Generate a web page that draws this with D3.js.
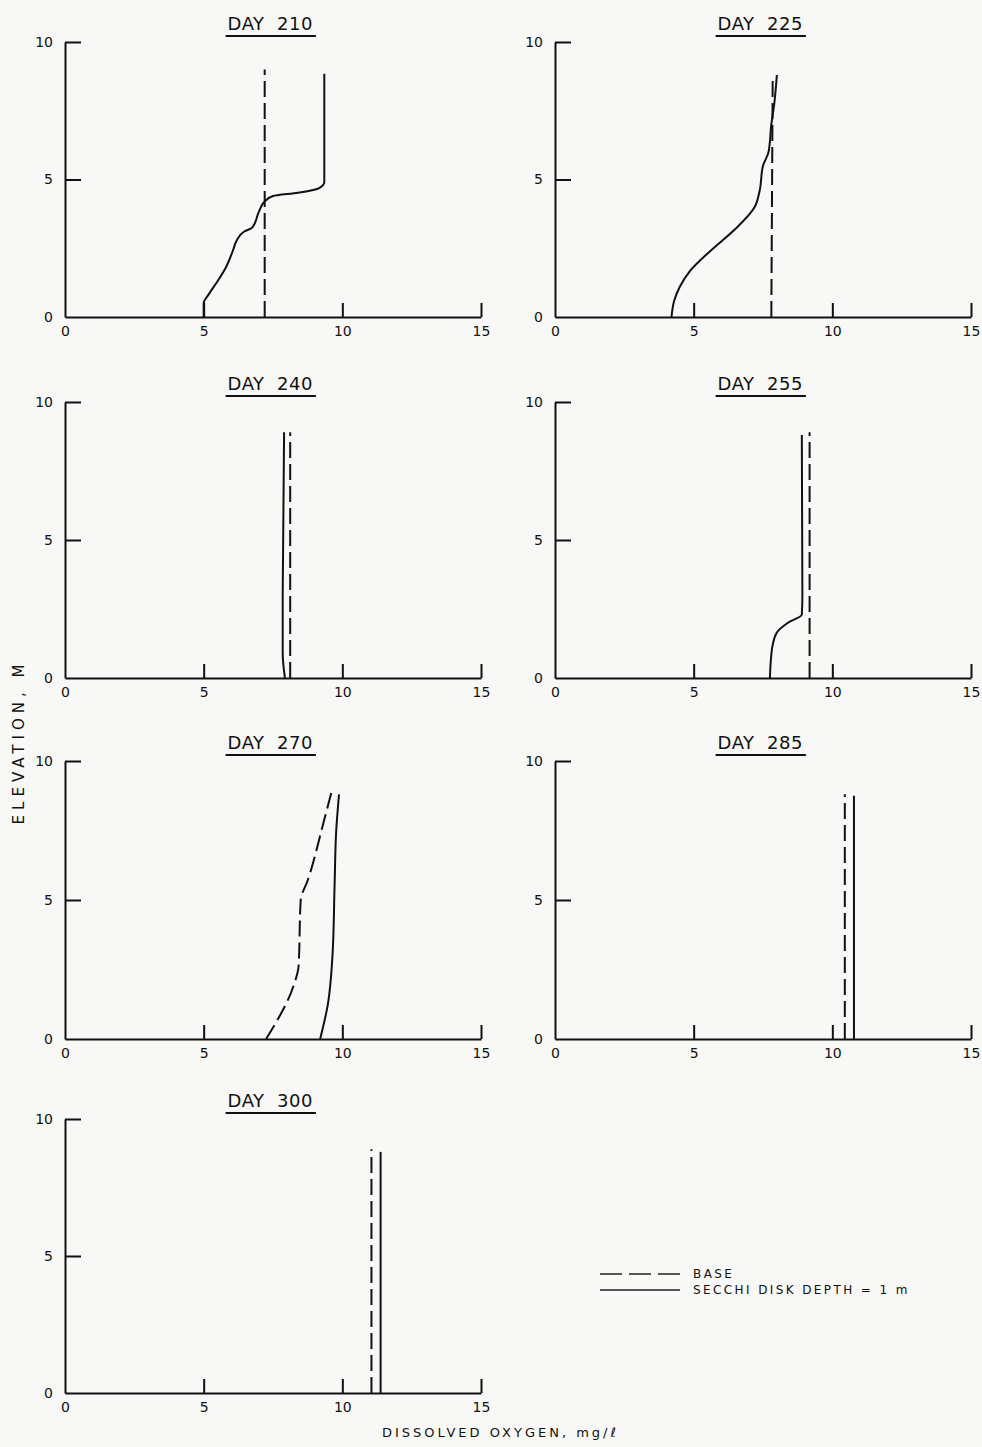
<!DOCTYPE html>
<html>
<head>
<meta charset="utf-8">
<script src="https://cdn.jsdelivr.net/npm/d3@7"></script>
<style>
  body { margin: 0; background: #f8f8f6; }
  svg { display: block; }
  text { font-family: "DejaVu Sans", sans-serif; fill: #111; }
</style>
</head>
<body>
<div id="chart"></div>
<script>

// days shown, one panel each
const days = [210, 225, 240, 255, 270, 285, 300]

// profiles as [dissolved oxygen mg/l, elevation m]
const base210 = [[7.2, 0], [7.2, 9.0]]
const secchi210 = [[5.0, 0], [5.0, 0.5], [5.2, 0.85], [5.5, 1.3], [5.8, 1.8], [6.05, 2.4], [6.2, 2.8], [6.45, 3.1], [6.75, 3.25], [7.0, 3.85], [7.2, 4.2], [7.5, 4.4], [8.4, 4.52], [9.15, 4.68], [9.35, 4.9], [9.35, 8.85]]

const base225 = [[7.8, 0], [7.85, 8.8]]
const secchi225 = [[4.2, 0], [4.3, 0.6], [4.5, 1.1], [4.85, 1.65], [5.6, 2.4], [6.5, 3.2], [7.2, 4.0], [7.38, 4.6], [7.5, 5.5], [7.7, 6.0], [7.8, 7.0], [7.9, 7.7], [8.0, 8.8]]

const base240 = [[8.12, 0], [8.12, 8.9]]
const secchi240 = [[7.93, 0], [7.85, 0.9], [7.85, 3.0], [7.9, 8.9]]

const base255 = [[9.18, 0], [9.18, 8.9]]
const secchi255 = [[7.75, 0], [7.78, 0.6], [7.85, 1.2], [8.0, 1.65], [8.4, 2.0], [8.9, 2.3], [8.92, 3.0], [8.9, 8.8]]

const base270 = [[7.25, 0], [8.27, 2.0], [8.42, 2.6], [8.5, 5.0], [8.75, 5.7], [9.35, 7.9], [9.6, 8.85]]
const secchi270 = [[9.2, 0], [9.47, 1.2], [9.65, 3.1], [9.72, 5.5], [9.78, 7.5], [9.88, 8.8]]

const base285 = [[10.45, 0], [10.45, 8.8]]
const secchi285 = [[10.78, 0], [10.78, 8.75]]

const base300 = [[11.05, 0], [11.05, 8.9]]
const secchi300 = [[11.38, 0], [11.38, 8.8]]

const baseRuns = [base210, base225, base240, base255, base270, base285, base300]
const secchiRuns = [secchi210, secchi225, secchi240, secchi255, secchi270, secchi285, secchi300]

const xTicks = [0, 5, 10, 15]
const yTicks = [0, 5, 10]
const legendLabels = ["BASE", "SECCHI DISK DEPTH = 1 m"]

const width = 982
const height = 1447

// panel placement
const colLeft = [65, 555]
const rowTop = [42, 402, 761, 1119]
const rowBottom = [317, 678, 1039, 1393]
const plotWidth = 416

var svg = d3.select("#chart").append("svg")
    .attr("width", width)
    .attr("height", height)

var line = d3.line()
    .x(d => d[0])
    .y(d => d[1])
    .curve(d3.curveMonotoneY)

days.forEach(function(day, i) {

    var col = i % 2
    var row = Math.floor(i / 2)

    var x = d3.scaleLinear().domain([0, 15]).range([colLeft[col], colLeft[col] + plotWidth])
    var y = d3.scaleLinear().domain([0, 10]).range([rowBottom[row], rowTop[row]])

    var g = svg.append("g")

    // x axis, ticks pointing up
    var xAxis = g.append("g")
        .attr("transform", `translate(0,${y(0)})`)
        .call(d3.axisBottom(x).tickValues(xTicks).tickSizeInner(-14).tickSizeOuter(0).tickPadding(9))

    xAxis.selectAll(".tick line").filter(d => d === 0).remove()

    // y axis, ticks pointing right
    var yAxis = g.append("g")
        .attr("transform", `translate(${x(0)},0)`)
        .call(d3.axisLeft(y).tickValues(yTicks).tickSizeInner(-16).tickSizeOuter(0).tickPadding(12))

    yAxis.selectAll(".tick line").filter(d => d === 0).remove()

    g.selectAll(".domain, .tick line")
        .attr("stroke", "#111")
        .attr("stroke-width", 2)

    g.selectAll(".tick text")
        .style("font-size", "14px")
        .style("font-family", "DejaVu Sans, sans-serif")
        .attr("fill", "#222")

    // title with underline
    var title = g.append("text")
        .attr("x", x(7.4))
        .attr("y", y(10) - 12)
        .attr("text-anchor", "middle")
        .style("font-size", "18px")
        .style("letter-spacing", "0.5px")
        .text("DAY  " + day)
        .attr("xml:space", "preserve")

    var box = title.node().getBBox()

    g.append("line")
        .attr("x1", box.x - 2)
        .attr("x2", box.x + box.width + 3)
        .attr("y1", y(10) - 6)
        .attr("y2", y(10) - 6)
        .attr("stroke", "#111")
        .attr("stroke-width", 2)

    // profiles
    g.append("path")
        .datum(baseRuns[i].map(d => [x(d[0]), y(d[1])]))
        .attr("d", line)
        .attr("fill", "none")
        .attr("stroke", "#111")
        .attr("stroke-width", 2)
        .attr("stroke-dasharray", "16,6")

    g.append("path")
        .datum(secchiRuns[i].map(d => [x(d[0]), y(d[1])]))
        .attr("d", line)
        .attr("fill", "none")
        .attr("stroke", "#111")
        .attr("stroke-width", 2)

})

// legend
var legend = svg.append("g").attr("transform", "translate(600,1274)")

legendLabels.forEach(function(label, i) {

    legend.append("line")
        .attr("x1", 0)
        .attr("x2", 80)
        .attr("y1", i * 16)
        .attr("y2", i * 16)
        .attr("stroke", "#222")
        .attr("stroke-width", 1.5)
        .attr("stroke-dasharray", i === 0 ? "22,7" : null)

    legend.append("text")
        .attr("x", 93)
        .attr("y", i * 16 + 4)
        .style("font-size", "12px")
        .style("letter-spacing", "2.4px")
        .attr("fill", "#9a9a9a")
        .text(label)
})

// axis titles
svg.append("text")
    .attr("transform", "translate(24,742) rotate(-90)")
    .attr("text-anchor", "middle")
    .style("font-size", "15px")
    .style("letter-spacing", "5px")
    .text("ELEVATION, M")

svg.append("text")
    .attr("x", 382)
    .attr("y", 1437)
    .style("font-size", "13px")
    .style("letter-spacing", "3px")
    .text("DISSOLVED OXYGEN, mg/ℓ")

</script>
</body>
</html>
